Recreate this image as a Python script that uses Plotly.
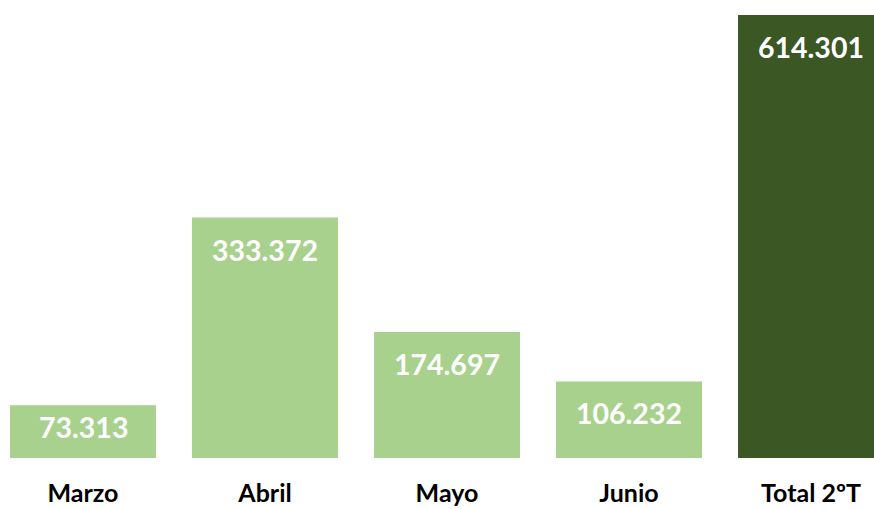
import plotly.graph_objects as go

# Monthly figures and the quarter total
categories = ["Marzo", "Abril", "Mayo", "Junio", "Total 2ºT"]
values = [73313, 333372, 174697, 106232, 614301]
labels = ["73.313", "333.372", "174.697", "106.232", "614.301"]
colors = ["#A9D18E", "#A9D18E", "#A9D18E", "#A9D18E", "#3B5724"]

W, H = 874, 509
plot_h = 458
y_max = 635100

fig = go.Figure(
    go.Bar(
        x=categories,
        y=values,
        marker=dict(color=colors, line=dict(width=0)),
        width=0.802,
        hoverinfo="skip",
    )
)

# Value labels inside the top of each bar
for cat, val, lab in zip(categories, values, labels):
    bar_px = val / y_max * plot_h
    offset = min(32, 0.42 * bar_px)
    fig.add_annotation(
        x=cat, y=val, text=lab, showarrow=False,
        yanchor="middle", yshift=-offset,
        font=dict(family="Lato", size=28.5, color="white", weight="bold"),
    )

fig.update_layout(
    width=W, height=H,
    margin=dict(l=0, r=0, t=0, b=H - plot_h, autoexpand=False),
    paper_bgcolor="white", plot_bgcolor="white",
    showlegend=False,
    xaxis=dict(
        range=[-0.456, 4.346], showgrid=False, zeroline=False, showline=False,
        ticks="", ticklabelstandoff=18, automargin=False,
        tickfont=dict(family="Lato", size=25, color="black", weight="bold"),
    ),
    yaxis=dict(range=[0, y_max], visible=False, automargin=False),
)

fig.write_html("out.html")
